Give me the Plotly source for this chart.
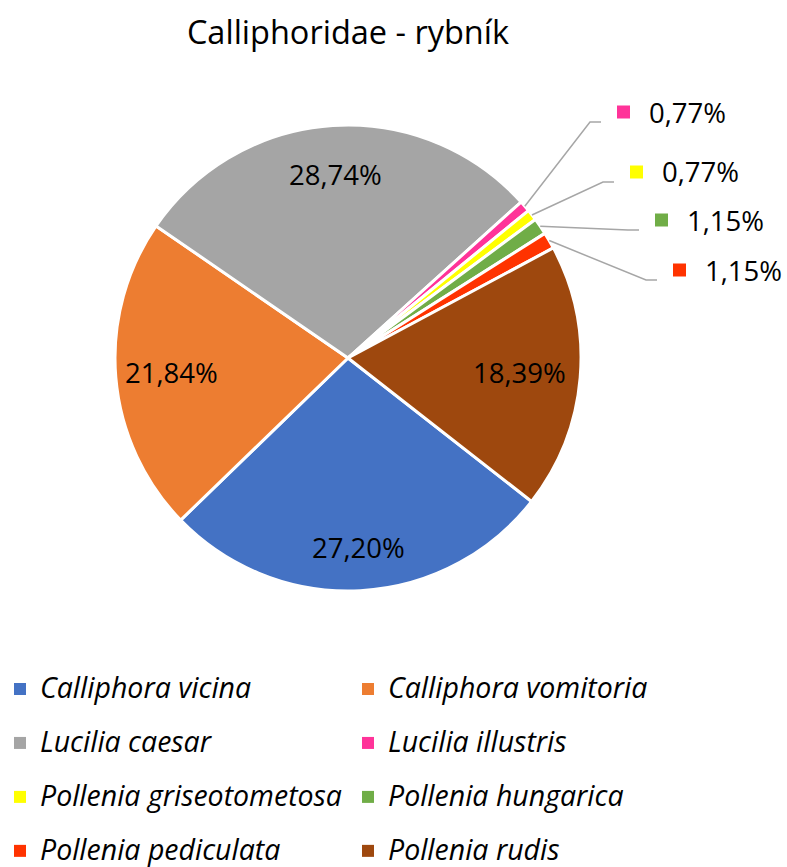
import math
import plotly.graph_objects as go

# Species share (%) of Calliphoridae caught at the pond site
species = [
    "Calliphora vicina", "Calliphora vomitoria", "Lucilia caesar", "Lucilia illustris",
    "Pollenia griseotometosa", "Pollenia hungarica", "Pollenia pediculata", "Pollenia rudis",
]
shares = [27.20, 21.84, 28.74, 0.77, 0.77, 1.15, 1.15, 18.39]
colors = ["#4472C4", "#ED7D31", "#A5A5A5", "#FF3399", "#FFFF00", "#70AD47", "#FF3300", "#9E480E"]

# Figure geometry (pixels)
W, H = 787, 867
CX, CY, R = 348, 358, 233
START = 128  # first slice starts this many degrees clockwise from 12 o'clock

# Label placement per slice: fraction of radius for inside labels,
# or (left x, centre y) in pixels for call-out labels of the thin slices
inside_r = {0: 0.815, 1: 0.76, 2: 0.79, 7: 0.74}
callout_at = {3: (617, 112), 4: (630, 172), 5: (655, 220), 6: (673, 270)}

FONT = "Open Sans"
LABEL_SIZE = 27.5
TITLE_SIZE = 32.5
LEGEND_TEXT = 28.5
LEGEND_ROW = 39.2  # sets the legend row pitch (1.3 x size + 3 px)


def px(x, y):
    """Pixel position -> paper coordinates (no margins)."""
    return x / W, 1 - y / H


def pct(v):
    return f"{v:.2f}".replace(".", ",") + "%"


total = sum(shares)
mid_angles = []
acc = 0.0
for v in shares:
    mid_angles.append(math.radians(START + 360 * (acc + v / 2) / total))
    acc += v

legend_names = [
    f"<span style='font-size:{LEGEND_TEXT}px;baseline-shift:6px'><i>{s}</i></span>" for s in species
]

pie_domain = dict(x=[(CX - R) / W, (CX + R) / W], y=[1 - (CY + R) / H, 1 - (CY - R) / H])

# Legend carrier: same slices without the white separators, so the legend keys
# are plain squares. It sits tiny and fully underneath the main pie.
kx, ky = px(CX - 20, CY - 150)
fig = go.Figure()
fig.add_trace(go.Pie(
    labels=legend_names,
    values=shares,
    sort=False,
    direction="clockwise",
    rotation=START,
    marker=dict(colors=colors, line=dict(width=0)),
    textinfo="none",
    hoverinfo="skip",
    showlegend=True,
    domain=dict(x=[kx - 0.002, kx + 0.002], y=[ky - 0.002, ky + 0.002]),
))
fig.add_trace(go.Pie(
    labels=legend_names,
    values=shares,
    sort=False,
    direction="clockwise",
    rotation=START,
    marker=dict(colors=colors, line=dict(color="white", width=3)),
    textinfo="none",
    hoverinfo="skip",
    showlegend=False,
    domain=pie_domain,
))

annotations = []
shapes = []
for i, v in enumerate(shares):
    a = mid_angles[i]
    if i in inside_r:
        r = inside_r[i] * R
        x, y = px(CX + r * math.sin(a), CY - r * math.cos(a))
        annotations.append(dict(
            x=x, y=y, xref="paper", yref="paper", text=pct(v), showarrow=False,
            xanchor="center", yanchor="middle",
            font=dict(family=FONT, size=LABEL_SIZE, color="black"),
        ))
    else:
        lx, ly = callout_at[i]
        # leader line: slice edge -> elbow -> short horizontal run
        sx, sy = CX + R * math.sin(a), CY - R * math.cos(a)
        ex, ey = lx - 16, ly + 10
        bx = ex - 11
        p = [px(sx, sy), px(bx, ey), px(ex, ey)]
        shapes.append(dict(
            type="path", xref="paper", yref="paper",
            path=f"M{p[0][0]},{p[0][1]} L{p[1][0]},{p[1][1]} L{p[2][0]},{p[2][1]}",
            line=dict(color="#A6A6A6", width=1.5),
        ))
        # colour key square
        x0, y0 = px(lx, ly - 6.5)
        x1, y1 = px(lx + 13, ly + 6.5)
        shapes.append(dict(
            type="rect", xref="paper", yref="paper", x0=x0, y0=y0, x1=x1, y1=y1,
            fillcolor=colors[i], line=dict(width=0),
        ))
        tx, ty = px(lx + 30, ly)
        annotations.append(dict(
            x=tx, y=ty, xref="paper", yref="paper", text=pct(v), showarrow=False,
            xanchor="left", yanchor="middle",
            font=dict(family=FONT, size=LABEL_SIZE, color="black"),
        ))

fig.update_layout(
    width=W, height=H,
    margin=dict(l=0, r=0, t=0, b=0, autoexpand=False),
    paper_bgcolor="white",
    plot_bgcolor="white",
    title=dict(
        text="Calliphoridae - rybník",
        x=CX / W, xanchor="center", xref="paper",
        y=1 - 33 / H, yanchor="middle", yref="container",
        font=dict(family=FONT, size=TITLE_SIZE, color="black"),
    ),
    showlegend=True,
    legend=dict(
        orientation="h",
        xref="paper", yref="paper",
        x=0, y=1 - 657 / H, xanchor="left", yanchor="top",
        entrywidth=303, entrywidthmode="pixels",
        traceorder="normal",
        font=dict(family=FONT, size=LEGEND_ROW, color="black"),
        bgcolor="rgba(0,0,0,0)",
    ),
    annotations=annotations,
    shapes=shapes,
)

fig.write_html("out.html")
